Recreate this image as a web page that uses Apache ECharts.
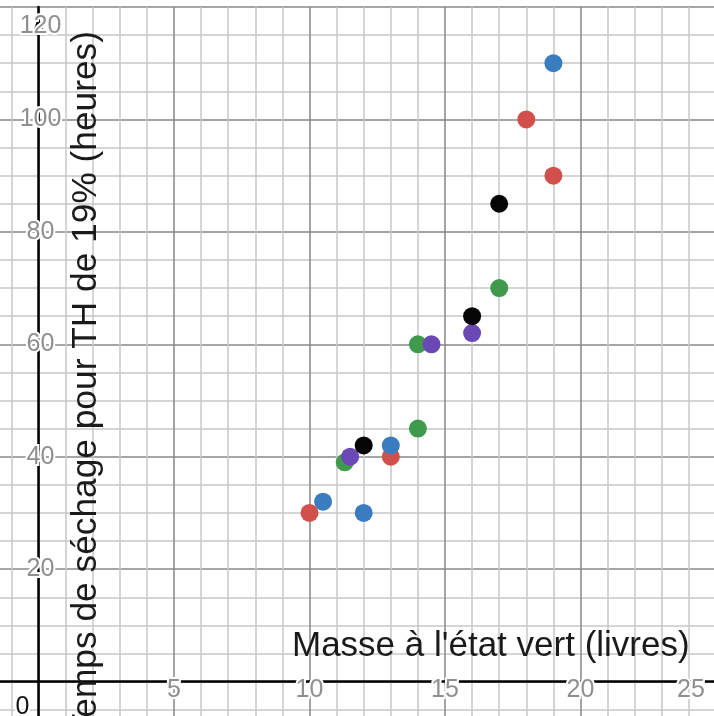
<!DOCTYPE html>
<html>
<head>
<meta charset="utf-8">
<script src="https://cdn.jsdelivr.net/npm/echarts@6/dist/echarts.min.js"></script>
<style>
  html, body { margin: 0; padding: 0; background: #fff; }
  #chart { width: 714px; height: 716px; }
</style>
</head>
<body>
<div id="chart"></div>
<script>
// ---- data ----
const xTitle = "Masse à l'état vert (livres)";
const yTitle = "Temps de séchage pour TH de 19% (heures)";
const redPoints    = [[10, 30], [13, 40], [18, 100], [19, 90]];
const bluePoints   = [[10.5, 32], [12, 30], [13, 42], [19, 110]];
const greenPoints  = [[11.3, 39], [14, 45], [14, 60], [17, 70]];
const purplePoints = [[11.5, 40], [14.5, 60], [16, 62]];
const blackPoints  = [[12, 42], [16, 65], [17, 85]];
const xTickLabels = [5, 10, 15, 20, 25];
const yTickLabels = [20, 40, 60, 80, 100, 120];

const FONT = "'Liberation Sans', Arial, sans-serif";
const labelBase = {
  fontFamily: FONT, fontSize: 25, color: '#8f8f8f',
  textBorderColor: '#ffffff', textBorderWidth: 4
};

// layout: grid extends past the canvas so that the visible window is x∈[-1.4,24.9], y∈[-6,120]
const GRID = { left: -97, right: -2, top: 7, bottom: -78 };
const W = 714, H = 716;
const X_MIN = -5, X_MAX = 25, Y_MIN = -20, Y_MAX = 120;
const gridW = W - GRID.left - GRID.right, gridH = H - GRID.top - GRID.bottom;
const yAxisShift = -(0 - X_MIN) / (X_MAX - X_MIN) * gridW;   // move y axis to x = 0
const xAxisShift = -(0 - Y_MIN) / (Y_MAX - Y_MIN) * gridH;   // move x axis to y = 0

const chart = echarts.init(document.getElementById('chart'), null, { renderer: 'canvas' });

function pointSeries(name, data, color) {
  return {
    name: name, type: 'scatter', data: data, symbol: 'circle', symbolSize: 18,
    itemStyle: { color: color, opacity: 1 }, z: 5, silent: true
  };
}

const xLabelCfg = {
  show: true, margin: 9, verticalAlign: 'middle', align: 'center',
  showMinLabel: true, showMaxLabel: true,
  formatter: function (v) {
    if (v === 0) return '{z|0}';
    if (v === 25) return '{e|25}';
    if (xTickLabels.indexOf(v) >= 0) return '{n|' + v + '}';
    return '';
  },
  rich: {
    n: Object.assign({}, labelBase),
    z: Object.assign({}, labelBase, { color: '#111', padding: [34, 32, 0, 0] }),
    e: Object.assign({}, labelBase, { padding: [0, 50, 0, 0] })
  }
};
const yLabelCfg = {
  show: true, margin: -2, align: 'center', verticalAlign: 'middle',
  showMinLabel: true, showMaxLabel: true,
  formatter: function (v) {
    if (v === 120) return '{t|120}';
    if (yTickLabels.indexOf(v) >= 0) return '{n|' + v + '}';
    return '';
  },
  rich: {
    n: Object.assign({}, labelBase),
    t: Object.assign({}, labelBase, { padding: [38, 0, 0, 0] })
  }
};

chart.setOption({
  backgroundColor: '#ffffff',
  animation: false,
  grid: Object.assign({ containLabel: false, outerBoundsMode: 'none' }, GRID),
  xAxis: [
    { // grid lines + axis line
      type: 'value', min: X_MIN, max: X_MAX, interval: 5,
      position: 'bottom', offset: xAxisShift, z: 0,
      axisLine: { show: true, onZero: false, lineStyle: { color: '#000', width: 2.5 } },
      axisTick: { show: false },
      axisLabel: { show: false },
      splitLine: { show: true, lineStyle: { color: '#878787', width: 1.5 } },
      minorTick: { show: false, splitNumber: 5 },
      minorSplitLine: { show: true, lineStyle: { color: '#c8c8c8', width: 1.5 } }
    },
    { // tick labels drawn above the axis lines
      type: 'value', min: X_MIN, max: X_MAX, interval: 5,
      position: 'bottom', offset: xAxisShift, z: 3,
      axisLine: { show: false, onZero: false }, axisTick: { show: false },
      splitLine: { show: false }, minorSplitLine: { show: false },
      axisLabel: xLabelCfg
    }
  ],
  yAxis: [
    {
      type: 'value', min: Y_MIN, max: Y_MAX, interval: 20,
      position: 'left', offset: yAxisShift, z: 0,
      axisLine: {
        show: true, onZero: false, lineStyle: { color: '#000', width: 2.5 },
        symbol: ['none', 'arrow'], symbolSize: [9, 16], symbolOffset: [0, -10]
      },
      axisTick: { show: false },
      axisLabel: { show: false },
      splitLine: { show: true, lineStyle: { color: '#878787', width: 1.5 } },
      minorTick: { show: false, splitNumber: 4 },
      minorSplitLine: { show: true, lineStyle: { color: '#c8c8c8', width: 1.5 } }
    },
    {
      type: 'value', min: Y_MIN, max: Y_MAX, interval: 20,
      position: 'left', offset: yAxisShift, z: 3,
      axisLine: { show: false, onZero: false }, axisTick: { show: false },
      splitLine: { show: false }, minorSplitLine: { show: false },
      axisLabel: yLabelCfg
    }
  ],
  graphic: [
    {
      type: 'text', left: 292, top: 629, z: 10, silent: true,
      style: { text: xTitle, fontFamily: FONT, fontSize: 35, fill: '#1a1a1a' }
    },
    {
      type: 'text', x: 86.5, y: 31, rotation: Math.PI / 2, z: 10, silent: true,
      style: { text: yTitle, fontFamily: FONT, fontSize: 35.3, fill: '#1a1a1a',
               align: 'right', verticalAlign: 'middle' }
    }
  ],
  series: [
    pointSeries('rouge', redPoints, '#d2504b'),
    pointSeries('bleu', bluePoints, '#3a7cc0'),
    pointSeries('vert', greenPoints, '#3f9a4d'),
    pointSeries('violet', purplePoints, '#6a48b5'),
    pointSeries('noir', blackPoints, '#050505')
  ]
});
</script>
</body>
</html>
